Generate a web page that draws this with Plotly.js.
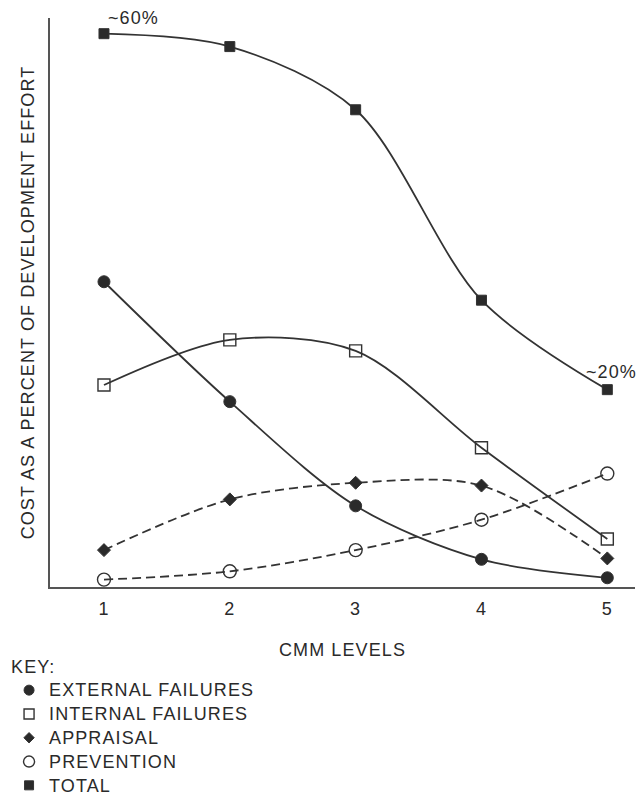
<!DOCTYPE html>
<html>
<head>
<meta charset="utf-8">
<script src="https://cdn.plot.ly/plotly-3.0.1.min.js"></script>
<style>
html,body{margin:0;padding:0;background:#fff;}
#chart{width:641px;height:796px;}
svg text{letter-spacing:1.1px;}
.legendtext, .legendtitletext{font-size:18px !important;}
</style>
</head>
<body>
<div id="chart"></div>
<script>
const levels = [1, 2, 3, 4, 5];
const externalFailures = [33.1, 20.1, 8.8, 3.0, 1.0];
const internalFailures = [21.9, 26.8, 25.6, 15.1, 5.2];
const appraisal = [4.0, 9.5, 11.3, 11.0, 3.1];
const prevention = [0.8, 1.7, 4.0, 7.3, 12.3];
const total = [60.0, 58.6, 51.75, 31.1, 21.4];
const seriesNames = ["EXTERNAL FAILURES", "INTERNAL FAILURES", "APPRAISAL", "PREVENTION", "TOTAL"];
const tickLabels = ["1", "2", "3", "4", "5"];

const ink = "#2a2a2a";
const lineCol = "#333";
const font = "Liberation Sans, Arial, sans-serif";
const fs = 18;

const specs = [
  {y: externalFailures, sym: "circle", dash: "solid", size: 12, lsize: 10},
  {y: internalFailures, sym: "square-open", dash: "solid", size: 12, lsize: 10},
  {y: appraisal, sym: "diamond", dash: "9px,5px", size: 10, lsize: 8},
  {y: prevention, sym: "circle-open", dash: "9px,5px", size: 13, lsize: 11},
  {y: total, sym: "square", dash: "solid", size: 10, lsize: 9}
];

function mk(s, size) {
  const open = s.sym.indexOf("open") >= 0;
  return {symbol: s.sym, size: size, color: open ? lineCol : ink,
          line: {color: lineCol, width: open ? 1.4 : 1}};
}

const traces = [];
specs.forEach((s, i) => {
  traces.push({
    x: levels, y: s.y, type: "scatter", mode: "lines+markers",
    name: seriesNames[i], showlegend: false,
    line: {color: lineCol, width: 1.8, dash: s.dash, shape: "spline", smoothing: 0.9},
    marker: mk(s, s.size),
    cliponaxis: false
  });
});
specs.forEach((s, i) => {
  traces.push({
    x: [null], y: [null], type: "scatter", mode: "markers",
    name: seriesNames[i], showlegend: true,
    marker: mk(s, s.lsize)
  });
});

const layout = {
  width: 641, height: 796,
  margin: {l: 50, r: 6, t: 18, b: 209, autoexpand: false},
  paper_bgcolor: "#fff", plot_bgcolor: "#fff",
  font: {family: font, size: fs, color: ink},
  showlegend: true,
  legend: {
    x: -0.070, y: -0.1150, xanchor: "left", yanchor: "top",
    title: {text: "KEY:", font: {size: 16, color: ink}},
    font: {size: 16, color: ink},
    tracegroupgap: 0, itemwidth: 30,
    bgcolor: "rgba(0,0,0,0)"
  },
  xaxis: {
    range: [0.571, 5.22],
    tickvals: levels, ticktext: tickLabels,
    showgrid: false, zeroline: false,
    showline: true, linecolor: "#555", linewidth: 2,
    ticks: "outside", ticklen: 4, tickcolor: "rgba(0,0,0,0)",
    tickfont: {size: fs, color: ink},
    title: {text: "CMM LEVELS", font: {size: fs, color: ink}, standoff: 26}
  },
  yaxis: {
    range: [0, 61.7],
    showticklabels: false, showgrid: false, zeroline: false,
    showline: true, linecolor: "#555", linewidth: 2, ticks: "",
    title: {text: "COST AS A PERCENT OF DEVELOPMENT EFFORT", font: {size: fs, color: ink}, standoff: 9}
  },
  annotations: [
    {x: levels[0], y: total[0], xref: "x", yref: "y", text: "~60%", showarrow: false,
     xanchor: "left", yanchor: "middle", xshift: 2, yshift: 16, font: {size: fs, color: ink}},
    {x: levels[4], y: total[4], xref: "x", yref: "y", text: "~20%", showarrow: false,
     xanchor: "right", yanchor: "middle", xshift: 32, yshift: 18, font: {size: fs, color: ink}}
  ]
};

Plotly.newPlot("chart", traces, layout, {displayModeBar: false, staticPlot: true});
</script>
</body>
</html>
